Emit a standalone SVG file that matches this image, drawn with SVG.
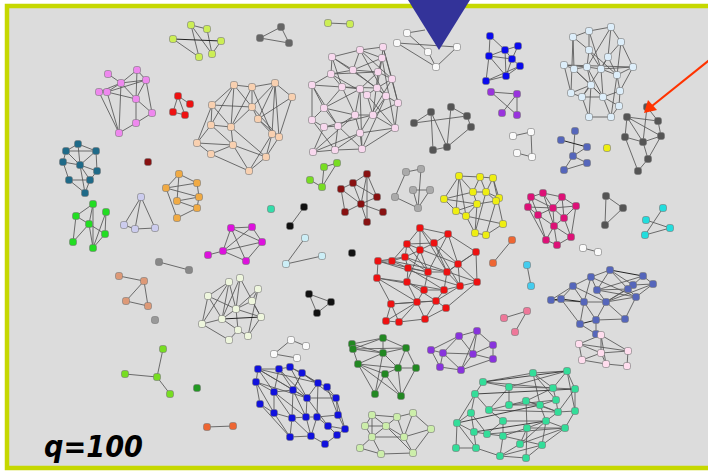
<svg xmlns="http://www.w3.org/2000/svg" xmlns:xlink="http://www.w3.org/1999/xlink" width="708" height="471" viewBox="0 0 708 471">
<style>
.e{fill:none;stroke:#555;stroke-width:0.85}
use{stroke:#777;stroke-width:0.6}
</style>
<defs>
<rect id="n" x="-3.5" y="-3.5" width="7" height="7" rx="2.2"/>
</defs>
<rect width="708" height="471" fill="#fff"/>
<rect x="7" y="6" width="712" height="462" fill="#dcdcdc" stroke="#c6d800" stroke-width="4.5"/>
<g id="connectors">
<path class="e" d="M108 74L121 83M121 83L137 70M137 70L146 80M121 83L146 80M99 92L107 92M107 92L121 83M107 92L146 80M121 83L136 99M136 99L146 80M136 99L152 113M146 80L152 113M136 99L136 123M152 113L136 123M99 92L119 133M107 92L119 133M121 83L119 133M136 123L119 133M107 92L136 99M137 70L136 99M99 92L121 83"/>
<path class="e" d="M78 144L96 151M66 151L96 151M78 144L80 165M66 151L80 165M80 165L96 151M63 162L80 165M80 165L97 171M96 151L97 171M63 162L69 180M69 180L90 180M80 165L90 180M90 180L85 193M69 180L85 193M80 165L85 193M78 144L66 151M97 171L90 180M66 151L63 162"/>
<path class="e" d="M191 25L207 29M191 25L199 57M207 29L212 54M173 39L199 57M191 25L212 54M212 54L221 41"/>
<path d="M173 39L221 41" stroke="#222" stroke-width="1"/>
<path class="e" d="M260 38L281 27M260 38L289 43M281 27L289 43M328 23L350 24M178 96L190 104M178 96L173 112M173 112L185 115M178 96L185 115"/>
<path class="e" d="M234 85L252 87M252 87L275 83M275 83L292 97M234 85L212 105M252 87L252 107M234 85L252 107M275 83L252 107M212 105L252 107M275 83L258 119M252 107L258 119M292 97L258 119M292 97L279 137M212 105L211 125M212 105L231 127M234 85L211 125M252 87L231 127M252 107L231 127M258 119L272 134M258 119L279 137M275 83L272 134M211 125L197 143M211 125L231 127M231 127L233 145M197 143L233 145M197 143L211 154M233 145L211 154M231 127L266 157M272 134L266 157M279 137L266 157M233 145L266 157M211 154L249 171M266 157L249 171M233 145L249 171M272 134L249 171M211 125L233 145M252 87L272 134M212 105L197 143M234 85L231 127M252 107L279 137M275 83L279 137"/>
<path class="e" d="M332 57L331 74M332 57L360 50M332 57L353 70M331 74L312 85M331 74L342 87M331 74L353 70M312 85L342 87M312 85L312 120M312 85L324 108M342 87L324 108M342 87L360 89M353 70L360 50M353 70L378 72M353 70L382 58M360 50L383 47M360 50L382 58M383 47L382 58M383 47L392 79M382 58L378 72M382 58L377 88M378 72L392 79M378 72L360 89M392 79L398 103M392 79L377 88M377 88L367 95M377 88L386 96M360 89L367 95M360 89L355 115M367 95L373 115M386 96L398 103M386 96L373 115M398 103L395 128M355 115L373 115M355 115L360 133M373 115L395 128M395 128L362 149M360 133L362 149M324 108L312 120M324 108L338 126M312 120L324 127M324 127L338 126M324 127L313 152M338 126L335 150M313 152L335 150M338 126L355 115M335 150L360 133M335 150L362 149M313 152L360 133M324 108L360 89M342 87L355 115M331 74L367 95M332 57L377 88M360 50L386 96M383 47L398 103M382 58L395 128M312 85L338 126M312 120L335 150M324 127L373 115M338 126L362 149M353 70L386 96M378 72L373 115M392 79L360 133M367 95L395 128M360 89L362 149M331 74L378 72M342 87L377 88M360 50L392 79M332 57L342 87M324 108L355 115M313 152L355 115M395 128L360 133M386 96L362 149M398 103L373 115"/>
<path class="e" d="M407 33L425 30M407 33L428 52M397 43L436 67M397 43L457 47M457 47L436 67M428 52L436 67"/>
<path class="e" d="M490 36L489 56M490 36L505 50M505 50L518 46M505 50L489 56M505 50L512 59M489 56L512 59M518 46L512 59M512 59L520 66M489 56L506 76M512 59L506 76M520 66L506 76M489 56L486 81M506 76L486 81M505 50L506 76M486 81L520 66"/>
<path class="e" d="M491 92L517 94M517 94L517 115M491 92L517 115M502 113L517 94"/>
<path class="e" d="M414 123L431 112M414 123L467 116M431 112L433 150M451 107L447 147M467 116L471 127M471 127L447 147M433 150L447 147M431 112L447 147M451 107L467 116"/>
<path class="e" d="M513 136L531 132M531 132L532 157M517 153L532 157"/>
<path class="e" d="M589 31L611 27M589 31L573 37M589 31L589 50M611 27L621 42M611 27L608 57M573 37L589 50M573 37L574 69M621 42L608 57M621 42L633 67M621 42L617 75M589 50L587 67M589 50L601 69M608 57L601 69M608 57L617 75M564 65L574 69M564 65L587 67M574 69L587 67M587 67L601 69M601 69L633 67M564 65L633 67M601 69L617 75M633 67L617 75M574 69L591 85M587 67L591 85M601 69L603 97M617 75L620 91M591 85L571 93M591 85L582 97M591 85L603 97M571 93L582 97M582 97L603 97M603 97L620 91M603 97L619 106M620 91L619 106M582 97L589 117M603 97L611 117M619 106L611 117M589 117L611 117M591 85L589 117M617 75L611 117M573 37L571 93M589 31L601 69M611 27L587 67M608 57L582 97M589 50L617 75M633 67L620 91M564 65L571 93M574 69L603 97M587 67L603 97"/>
<path class="e" d="M627 117L658 121M647 107L658 121M627 117L625 137M627 117L661 136M647 107L643 142M625 137L643 142M643 142L661 136M658 121L661 136M643 142L648 159M661 136L648 159M648 159L638 171M625 137L638 171M627 117L643 142"/>
<path class="e" d="M575 131L573 156M573 156L587 147M564 170L587 163M573 156L564 170M573 156L587 163"/>
<path d="M561 140L587 147" stroke="#222" stroke-width="1"/>
<path class="e" d="M179 174L166 188M179 174L177 201M166 188L197 183M166 188L199 197M197 183L199 197M199 197L177 201M177 201L197 208M199 197L197 208M197 208L177 218M166 188L177 218M179 174L197 183"/>
<path class="e" d="M93 204L76 216M93 204L89 224M93 204L93 248M106 212L105 234M106 212L93 248M76 216L89 224M76 216L73 242M89 224L105 234M89 224L73 242M89 224L93 248M105 234L93 248"/>
<path class="e" d="M141 197L124 225M141 197L135 229M141 197L155 228M124 225L135 229M135 229L155 228M159 262L189 270"/>
<path class="e" d="M119 276L144 281M144 281L126 301M126 301L148 306M144 281L148 306"/>
<path class="e" d="M324 167L337 163M337 163L322 187M310 180L322 187M324 167L322 187"/>
<path class="e" d="M341 189L353 183M353 183L367 174M367 174L377 197M367 174L361 204M341 189L361 204M353 183L377 197M341 189L345 212M361 204L377 197M361 204L383 212M361 204L367 222M367 174L367 222M353 183L361 204M345 212L361 204"/>
<path class="e" d="M304 207L290 226M305 238L286 264M286 264L322 256M309 294L331 302M331 302L317 313M309 294L317 313"/>
<path class="e" d="M231 228L252 227M231 228L223 251M231 228L246 261M252 227L262 242M252 227L223 251M262 242L223 251M262 242L246 261M208 255L223 251M223 251L246 261M231 228L262 242"/>
<path class="e" d="M229 282L208 296M229 282L236 309M229 282L202 324M240 278L236 309M240 278L222 319M240 278L261 317M258 289L252 301M258 289L236 309M208 296L222 319M208 296L202 324M252 301L236 309M236 309L222 319M236 309L261 317M236 309L238 330M202 324L222 319M222 319L238 330M261 317L248 336M238 330L248 336M238 330L229 340M202 324L229 340M252 301L261 317M229 282L222 319M208 296L236 309M258 289L248 336"/>
<path d="M222 319L261 317" stroke="#222" stroke-width="1"/>
<path class="e" d="M406 172L421 169M406 172L395 197M421 169L418 208M413 190L430 190M413 190L418 208M430 190L418 208M395 197L418 208"/>
<path class="e" d="M459 176L480 177M480 177L493 178M459 176L444 199M459 176L473 192M459 176L456 211M480 177L473 192M480 177L486 192M493 178L486 192M493 178L499 198M493 178L503 224M444 199L477 204M444 199L456 211M473 192L486 192M473 192L477 204M486 192L499 198M486 192L496 201M499 198L496 201M496 201L477 204M477 204L456 211M477 204L466 216M456 211L466 216M466 216L503 224M466 216L475 233M477 204L475 233M496 201L486 235M503 224L486 235M475 233L486 235M444 199L473 192M486 192L475 233M459 176L466 216"/>
<path class="e" d="M420 228L448 234M420 228L407 244M420 228L434 243M420 228L420 250M448 234L434 243M448 234L476 252M448 234L458 264M407 244L434 243M407 244L405 257M407 244L392 261M434 243L420 250M434 243L458 264M434 243L447 272M420 250L405 257M420 250L428 272M476 252L458 264M476 252L477 282M378 261L392 261M378 261L377 278M378 261L405 257M392 261L405 257M392 261L408 268M405 257L408 268M405 257L428 272M458 264L447 272M458 264L460 286M458 264L477 282M408 268L428 272M408 268L407 282M428 272L447 272M428 272L424 290M447 272L460 286M447 272L444 290M377 278L407 282M377 278L391 304M407 282L424 290M407 282L417 302M460 286L477 282M460 286L444 290M460 286L436 301M477 282L446 308M424 290L444 290M424 290L417 302M444 290L436 301M391 304L417 302M417 302L436 301M436 301L446 308M391 304L386 321M391 304L399 322M417 302L399 322M417 302L425 319M436 301L425 319M446 308L425 319M386 321L399 322M399 322L425 319M378 261L428 272M392 261L447 272M407 244L428 272M377 278L444 290M378 261L460 286M405 257L477 282M420 228L447 272M448 234L428 272M377 278L417 302M407 282L436 301M408 268L444 290M391 304L436 301M386 321L417 302M476 252L447 272M420 250L407 282M434 243L460 286M407 244L458 264"/>
<path class="e" d="M512 240L493 263M527 265L531 286M504 318L527 311M527 311L515 332"/>
<path class="e" d="M531 197L543 193M543 193L562 197M543 193L553 208M562 197L576 206M531 197L528 207M528 207L553 208M553 208L576 206M562 197L553 208M528 207L538 215M538 215L553 208M553 208L564 218M576 206L564 218M564 218L554 226M538 215L554 226M554 226L571 237M564 218L571 237M576 206L571 237M538 215L546 240M554 226L546 240M546 240L557 245M554 226L557 245M571 237L557 245M531 197L538 215M543 193L554 226M562 197L564 218M528 207L546 240M553 208L554 226M531 197L553 208"/>
<path class="e" d="M606 196L623 208M623 208L605 225M606 196L605 225M663 208L645 235M646 220L670 228M645 235L670 228M583 248L598 252"/>
<path class="e" d="M610 270L591 277M610 270L597 290M643 276L653 284M643 276L633 285M591 277L573 286M591 277L597 290M591 277L584 302M653 284L633 285M653 284L636 297M573 286L551 300M573 286L561 299M573 286L584 302M633 285L628 289M597 290L628 289M597 290L606 302M628 289L636 297M584 302L606 302M606 302L636 297M606 302L625 319M636 297L625 319M561 299L580 324M584 302L580 324M584 302L596 320M606 302L596 320M596 320L625 319M580 324L596 334M596 320L596 334M610 270L628 289M591 277L636 297M597 290L636 297M573 286L606 302M643 276L597 290M633 285L606 302M628 289L606 302M653 284L606 302M551 300L584 302M610 270L633 285"/>
<path d="M610 270L643 276M551 300L561 299L584 302M580 324L596 320" fill="none" stroke="#222" stroke-width="1"/>
<path class="e" d="M596 334L601 335M601 335L579 344M601 335L601 353M601 335L628 351M579 344L628 351M579 344L582 360M601 353L606 364M582 360L606 364M606 364L627 366M628 351L627 366M579 344L601 353M601 353L628 351M582 360L601 353M601 335L606 364"/>
<path class="e" d="M163 349L157 377M125 374L157 377M157 377L170 394M291 340L306 346M291 340L274 354M274 354L297 358M207 427L233 426"/>
<path class="e" d="M258 369L279 369M279 369L290 367M290 367L302 373M258 369L256 382M258 369L274 392M279 369L293 390M290 367L318 383M302 373L318 383M302 373L293 390M256 382L274 392M256 382L260 404M318 383L327 387M318 383L307 398M327 387L336 398M274 392L293 390M274 392L274 413M293 390L307 398M293 390L292 418M307 398L336 398M307 398L306 417M336 398L338 415M260 404L274 413M274 413L292 418M292 418L306 417M306 417L317 417M317 417L338 415M317 417L328 426M338 415L345 429M328 426L345 429M292 418L290 437M306 417L311 436M317 417L311 436M328 426L337 435M345 429L337 435M290 437L311 436M311 436L325 444M337 435L325 444M258 369L293 390M279 369L307 398M290 367L307 398M256 382L274 413M274 392L292 418M260 404L290 437M258 369L318 383M279 369L274 392M302 373L336 398M327 387L338 415M318 383L317 417M307 398L328 426M336 398L345 429M293 390L306 417M274 392L306 417M292 418L311 436M256 382L307 398M258 369L307 398M274 413L290 437M302 373L293 390"/>
<path class="e" d="M352 344L383 338M353 349L383 338M353 349L383 353M383 338L406 348M383 338L383 353M406 348L383 353M353 349L358 364M383 353L358 364M383 353L398 368M406 348L398 368M406 348L416 368M398 368L416 368M358 364L385 374M398 368L385 374M358 364L375 394M385 374L375 394M385 374L401 396M398 368L401 396M416 368L401 396M358 364L398 368M353 349L406 348M352 344L383 353M375 394L383 353M358 364L401 396"/>
<path class="e" d="M459 336L477 331M459 336L431 350M459 336L443 353M477 331L493 345M477 331L473 354M493 345L473 354M493 345L493 359M431 350L443 353M443 353L473 354M473 354L493 359M443 353L440 367M473 354L461 370M440 367L461 370M461 370L493 359M431 350L440 367M459 336L473 354M477 331L461 370M443 353L461 370"/>
<path class="e" d="M372 415L397 417M397 417L413 413M372 415L365 426M372 415L386 426M397 417L386 426M413 413L431 429M413 413L404 437M386 426L404 437M365 426L372 437M386 426L372 437M372 437L404 437M404 437L431 429M372 437L360 448M372 437L381 454M360 448L381 454M404 437L413 453M381 454L413 453M431 429L413 453M386 426L413 453M372 415L372 437M397 417L404 437M365 426L386 426"/>
<path class="e" d="M483 382L533 373M483 382L509 387M483 382L475 394M509 387L489 410M509 387L509 405M475 394L471 413M475 394L489 410M471 413L457 423M471 413L474 432M489 410L509 405M489 410L503 421M509 405L526 401M526 401L527 428M503 421L503 436M503 421L487 434M457 423L474 432M474 432L487 434M487 434L503 436M503 436L527 428M457 423L456 448M474 432L476 448M476 448L456 448M476 448L500 456M500 456L526 458M503 436L500 456M527 428L526 458M520 444L527 428M520 444L500 456M533 373L567 371M533 373L553 388M567 371L553 388M567 371L575 389M553 388L575 389M553 388L556 400M575 389L575 411M556 400L540 405M556 400L558 412M540 405L546 421M575 411L558 412M558 412L546 421M546 421L565 428M575 411L565 428M546 421L542 445M565 428L542 445M540 405L526 401M509 405L540 405M509 387L553 388M533 373L540 405M567 371L575 411M483 382L553 388M526 401L558 412M527 428L546 421M526 458L542 445M520 444L565 428M509 405L556 400M509 387L567 371M503 421L546 421M503 436L542 445M487 434L565 428M489 410L558 412M475 394L457 423M471 413L487 434M457 423L476 448M575 389L558 412M526 401L553 388M533 373L556 400M527 428L565 428M500 456L542 445M520 444L546 421M540 405L558 412"/>
<path d="M483 382L567 371M475 394L575 389M457 423L540 405M474 432L546 421" fill="none" stroke="#333" stroke-width="0.9"/>
</g>
<g id="c-violet" fill="#ee88ee"><use href="#n" x="108" y="74"/><use href="#n" x="137" y="70"/><use href="#n" x="146" y="80"/><use href="#n" x="121" y="83"/><use href="#n" x="99" y="92"/><use href="#n" x="107" y="92"/><use href="#n" x="136" y="99"/><use href="#n" x="152" y="113"/><use href="#n" x="136" y="123"/><use href="#n" x="119" y="133"/></g>
<g id="c-teal" fill="#1f6a88"><use href="#n" x="78" y="144"/><use href="#n" x="66" y="151"/><use href="#n" x="96" y="151"/><use href="#n" x="63" y="162"/><use href="#n" x="80" y="165"/><use href="#n" x="97" y="171"/><use href="#n" x="69" y="180"/><use href="#n" x="90" y="180"/><use href="#n" x="85" y="193"/></g>
<g id="c-lime" fill="#ccee55"><use href="#n" x="173" y="39"/><use href="#n" x="191" y="25"/><use href="#n" x="207" y="29"/><use href="#n" x="221" y="41"/><use href="#n" x="199" y="57"/><use href="#n" x="212" y="54"/><use href="#n" x="328" y="23"/><use href="#n" x="350" y="24"/></g>
<g id="c-gray3" fill="#666"><use href="#n" x="260" y="38"/><use href="#n" x="281" y="27"/><use href="#n" x="289" y="43"/></g>
<g id="c-red4" fill="#ee1111"><use href="#n" x="178" y="96"/><use href="#n" x="190" y="104"/><use href="#n" x="173" y="112"/><use href="#n" x="185" y="115"/></g>
<g id="c-peach" fill="#f8d0b0"><use href="#n" x="234" y="85"/><use href="#n" x="252" y="87"/><use href="#n" x="275" y="83"/><use href="#n" x="292" y="97"/><use href="#n" x="212" y="105"/><use href="#n" x="252" y="107"/><use href="#n" x="258" y="119"/><use href="#n" x="211" y="125"/><use href="#n" x="231" y="127"/><use href="#n" x="272" y="134"/><use href="#n" x="279" y="137"/><use href="#n" x="197" y="143"/><use href="#n" x="233" y="145"/><use href="#n" x="211" y="154"/><use href="#n" x="266" y="157"/><use href="#n" x="249" y="171"/></g>
<g id="c-lpink" fill="#f8d8ee"><use href="#n" x="332" y="57"/><use href="#n" x="312" y="85"/><use href="#n" x="331" y="74"/><use href="#n" x="342" y="87"/><use href="#n" x="353" y="70"/><use href="#n" x="324" y="108"/><use href="#n" x="312" y="120"/><use href="#n" x="324" y="127"/><use href="#n" x="338" y="126"/><use href="#n" x="313" y="152"/><use href="#n" x="335" y="150"/><use href="#n" x="360" y="50"/><use href="#n" x="383" y="47"/><use href="#n" x="382" y="58"/><use href="#n" x="378" y="72"/><use href="#n" x="392" y="79"/><use href="#n" x="377" y="88"/><use href="#n" x="360" y="89"/><use href="#n" x="367" y="95"/><use href="#n" x="386" y="96"/><use href="#n" x="398" y="103"/><use href="#n" x="355" y="115"/><use href="#n" x="373" y="115"/><use href="#n" x="395" y="128"/><use href="#n" x="360" y="133"/><use href="#n" x="362" y="149"/></g>
<g id="c-white1" fill="#fafafa"><use href="#n" x="407" y="33"/><use href="#n" x="397" y="43"/><use href="#n" x="428" y="52"/><use href="#n" x="457" y="47"/><use href="#n" x="436" y="67"/><use href="#n" x="513" y="136"/><use href="#n" x="531" y="132"/><use href="#n" x="517" y="153"/><use href="#n" x="532" y="157"/><use href="#n" x="583" y="248"/><use href="#n" x="598" y="252"/><use href="#n" x="291" y="340"/><use href="#n" x="306" y="346"/><use href="#n" x="274" y="354"/><use href="#n" x="297" y="358"/></g>
<g id="c-blue1" fill="#0a0aee"><use href="#n" x="490" y="36"/><use href="#n" x="505" y="50"/><use href="#n" x="518" y="46"/><use href="#n" x="489" y="56"/><use href="#n" x="512" y="59"/><use href="#n" x="520" y="66"/><use href="#n" x="506" y="76"/><use href="#n" x="486" y="81"/></g>
<g id="c-purple1" fill="#9933dd"><use href="#n" x="491" y="92"/><use href="#n" x="517" y="94"/><use href="#n" x="502" y="113"/><use href="#n" x="517" y="115"/></g>
<g id="c-dgray" fill="#555"><use href="#n" x="414" y="123"/><use href="#n" x="431" y="112"/><use href="#n" x="451" y="107"/><use href="#n" x="467" y="116"/><use href="#n" x="471" y="127"/><use href="#n" x="433" y="150"/><use href="#n" x="447" y="147"/><use href="#n" x="647" y="107"/><use href="#n" x="627" y="117"/><use href="#n" x="658" y="121"/><use href="#n" x="625" y="137"/><use href="#n" x="643" y="142"/><use href="#n" x="661" y="136"/><use href="#n" x="648" y="159"/><use href="#n" x="638" y="171"/><use href="#n" x="606" y="196"/><use href="#n" x="623" y="208"/><use href="#n" x="605" y="225"/></g>
<g id="c-lblue" fill="#ddeefa"><use href="#n" x="589" y="31"/><use href="#n" x="611" y="27"/><use href="#n" x="573" y="37"/><use href="#n" x="621" y="42"/><use href="#n" x="589" y="50"/><use href="#n" x="608" y="57"/><use href="#n" x="564" y="65"/><use href="#n" x="574" y="69"/><use href="#n" x="587" y="67"/><use href="#n" x="601" y="69"/><use href="#n" x="633" y="67"/><use href="#n" x="617" y="75"/><use href="#n" x="591" y="85"/><use href="#n" x="571" y="93"/><use href="#n" x="582" y="97"/><use href="#n" x="603" y="97"/><use href="#n" x="620" y="91"/><use href="#n" x="619" y="106"/><use href="#n" x="589" y="117"/><use href="#n" x="611" y="117"/></g>
<g id="c-slate" fill="#5566bb"><use href="#n" x="575" y="131"/><use href="#n" x="561" y="140"/><use href="#n" x="587" y="147"/><use href="#n" x="573" y="156"/><use href="#n" x="564" y="170"/><use href="#n" x="587" y="163"/><use href="#n" x="610" y="270"/><use href="#n" x="643" y="276"/><use href="#n" x="591" y="277"/><use href="#n" x="653" y="284"/><use href="#n" x="573" y="286"/><use href="#n" x="633" y="285"/><use href="#n" x="597" y="290"/><use href="#n" x="628" y="289"/><use href="#n" x="551" y="300"/><use href="#n" x="561" y="299"/><use href="#n" x="584" y="302"/><use href="#n" x="606" y="302"/><use href="#n" x="636" y="297"/><use href="#n" x="580" y="324"/><use href="#n" x="596" y="320"/><use href="#n" x="625" y="319"/><use href="#n" x="596" y="334"/></g>
<g id="c-singles"><use href="#n" x="607" y="148" fill="#eeee11"/><use href="#n" x="148" y="162" fill="#881111"/><use href="#n" x="271" y="209" fill="#33ddaa"/><use href="#n" x="352" y="253" fill="#111"/><use href="#n" x="155" y="320" fill="#999"/><use href="#n" x="197" y="388" fill="#229922"/><use href="#n" x="159" y="262" fill="#888"/><use href="#n" x="189" y="270" fill="#888"/></g>
<g id="c-orange" fill="#f0aa44"><use href="#n" x="179" y="174"/><use href="#n" x="166" y="188"/><use href="#n" x="197" y="183"/><use href="#n" x="199" y="197"/><use href="#n" x="177" y="201"/><use href="#n" x="197" y="208"/><use href="#n" x="177" y="218"/></g>
<g id="c-green" fill="#22dd22"><use href="#n" x="93" y="204"/><use href="#n" x="106" y="212"/><use href="#n" x="76" y="216"/><use href="#n" x="89" y="224"/><use href="#n" x="105" y="234"/><use href="#n" x="73" y="242"/><use href="#n" x="93" y="248"/></g>
<g id="c-lavender" fill="#ccccee"><use href="#n" x="141" y="197"/><use href="#n" x="124" y="225"/><use href="#n" x="135" y="229"/><use href="#n" x="155" y="228"/></g>
<g id="c-salmon" fill="#dd9977"><use href="#n" x="119" y="276"/><use href="#n" x="144" y="281"/><use href="#n" x="126" y="301"/><use href="#n" x="148" y="306"/></g>
<g id="c-limegreen" fill="#77dd22"><use href="#n" x="324" y="167"/><use href="#n" x="337" y="163"/><use href="#n" x="310" y="180"/><use href="#n" x="322" y="187"/><use href="#n" x="163" y="349"/><use href="#n" x="125" y="374"/><use href="#n" x="157" y="377"/><use href="#n" x="170" y="394"/></g>
<g id="c-darkred" fill="#881111"><use href="#n" x="341" y="189"/><use href="#n" x="353" y="183"/><use href="#n" x="367" y="174"/><use href="#n" x="377" y="197"/><use href="#n" x="361" y="204"/><use href="#n" x="383" y="212"/><use href="#n" x="367" y="222"/><use href="#n" x="345" y="212"/></g>
<g id="c-black" fill="#111"><use href="#n" x="304" y="207"/><use href="#n" x="290" y="226"/><use href="#n" x="309" y="294"/><use href="#n" x="331" y="302"/><use href="#n" x="317" y="313"/></g>
<g id="c-magenta" fill="#dd11dd"><use href="#n" x="231" y="228"/><use href="#n" x="252" y="227"/><use href="#n" x="262" y="242"/><use href="#n" x="208" y="255"/><use href="#n" x="223" y="251"/><use href="#n" x="246" y="261"/></g>
<g id="c-lcyan" fill="#cceef6"><use href="#n" x="305" y="238"/><use href="#n" x="322" y="256"/><use href="#n" x="286" y="264"/></g>
<g id="c-palewhite" fill="#eef6dd"><use href="#n" x="229" y="282"/><use href="#n" x="240" y="278"/><use href="#n" x="258" y="289"/><use href="#n" x="208" y="296"/><use href="#n" x="252" y="301"/><use href="#n" x="236" y="309"/><use href="#n" x="202" y="324"/><use href="#n" x="222" y="319"/><use href="#n" x="261" y="317"/><use href="#n" x="238" y="330"/><use href="#n" x="248" y="336"/><use href="#n" x="229" y="340"/></g>
<g id="c-gray6" fill="#aaa"><use href="#n" x="406" y="172"/><use href="#n" x="421" y="169"/><use href="#n" x="395" y="197"/><use href="#n" x="413" y="190"/><use href="#n" x="430" y="190"/><use href="#n" x="418" y="208"/></g>
<g id="c-yellow" fill="#eeee11"><use href="#n" x="459" y="176"/><use href="#n" x="480" y="177"/><use href="#n" x="493" y="178"/><use href="#n" x="444" y="199"/><use href="#n" x="473" y="192"/><use href="#n" x="486" y="192"/><use href="#n" x="499" y="198"/><use href="#n" x="496" y="201"/><use href="#n" x="477" y="204"/><use href="#n" x="456" y="211"/><use href="#n" x="466" y="216"/><use href="#n" x="503" y="224"/><use href="#n" x="475" y="233"/><use href="#n" x="486" y="235"/></g>
<g id="c-red" fill="#ee1111"><use href="#n" x="420" y="228"/><use href="#n" x="448" y="234"/><use href="#n" x="407" y="244"/><use href="#n" x="434" y="243"/><use href="#n" x="420" y="250"/><use href="#n" x="476" y="252"/><use href="#n" x="378" y="261"/><use href="#n" x="392" y="261"/><use href="#n" x="405" y="257"/><use href="#n" x="458" y="264"/><use href="#n" x="408" y="268"/><use href="#n" x="428" y="272"/><use href="#n" x="447" y="272"/><use href="#n" x="377" y="278"/><use href="#n" x="407" y="282"/><use href="#n" x="460" y="286"/><use href="#n" x="477" y="282"/><use href="#n" x="424" y="290"/><use href="#n" x="444" y="290"/><use href="#n" x="391" y="304"/><use href="#n" x="417" y="302"/><use href="#n" x="436" y="301"/><use href="#n" x="446" y="308"/><use href="#n" x="386" y="321"/><use href="#n" x="399" y="322"/><use href="#n" x="425" y="319"/></g>
<g id="c-smallpairs"><use href="#n" x="512" y="240" fill="#ee6633"/><use href="#n" x="493" y="263" fill="#ee6633"/><use href="#n" x="527" y="265" fill="#44ccee"/><use href="#n" x="531" y="286" fill="#44ccee"/><use href="#n" x="504" y="318" fill="#ee7799"/><use href="#n" x="527" y="311" fill="#ee7799"/><use href="#n" x="515" y="332" fill="#ee7799"/><use href="#n" x="207" y="427" fill="#ee6633"/><use href="#n" x="233" y="426" fill="#ee6633"/></g>
<g id="c-hotpink" fill="#dd1177"><use href="#n" x="531" y="197"/><use href="#n" x="543" y="193"/><use href="#n" x="562" y="197"/><use href="#n" x="576" y="206"/><use href="#n" x="528" y="207"/><use href="#n" x="553" y="208"/><use href="#n" x="538" y="215"/><use href="#n" x="564" y="218"/><use href="#n" x="554" y="226"/><use href="#n" x="571" y="237"/><use href="#n" x="546" y="240"/><use href="#n" x="557" y="245"/></g>
<g id="c-cyan" fill="#22dddd"><use href="#n" x="663" y="208"/><use href="#n" x="646" y="220"/><use href="#n" x="670" y="228"/><use href="#n" x="645" y="235"/></g>
<g id="c-pinklow" fill="#ffddee"><use href="#n" x="601" y="335"/><use href="#n" x="579" y="344"/><use href="#n" x="601" y="353"/><use href="#n" x="628" y="351"/><use href="#n" x="582" y="360"/><use href="#n" x="606" y="364"/><use href="#n" x="627" y="366"/></g>
<g id="c-blue2" fill="#1111dd"><use href="#n" x="258" y="369"/><use href="#n" x="279" y="369"/><use href="#n" x="290" y="367"/><use href="#n" x="302" y="373"/><use href="#n" x="256" y="382"/><use href="#n" x="318" y="383"/><use href="#n" x="327" y="387"/><use href="#n" x="274" y="392"/><use href="#n" x="293" y="390"/><use href="#n" x="307" y="398"/><use href="#n" x="336" y="398"/><use href="#n" x="260" y="404"/><use href="#n" x="274" y="413"/><use href="#n" x="292" y="418"/><use href="#n" x="306" y="417"/><use href="#n" x="317" y="417"/><use href="#n" x="338" y="415"/><use href="#n" x="328" y="426"/><use href="#n" x="345" y="429"/><use href="#n" x="290" y="437"/><use href="#n" x="311" y="436"/><use href="#n" x="337" y="435"/><use href="#n" x="325" y="444"/></g>
<g id="c-dgreen" fill="#228822"><use href="#n" x="352" y="344"/><use href="#n" x="353" y="349"/><use href="#n" x="383" y="338"/><use href="#n" x="406" y="348"/><use href="#n" x="383" y="353"/><use href="#n" x="358" y="364"/><use href="#n" x="398" y="368"/><use href="#n" x="416" y="368"/><use href="#n" x="385" y="374"/><use href="#n" x="375" y="394"/><use href="#n" x="401" y="396"/></g>
<g id="c-purple2" fill="#8833dd"><use href="#n" x="459" y="336"/><use href="#n" x="477" y="331"/><use href="#n" x="493" y="345"/><use href="#n" x="431" y="350"/><use href="#n" x="443" y="353"/><use href="#n" x="473" y="354"/><use href="#n" x="493" y="359"/><use href="#n" x="440" y="367"/><use href="#n" x="461" y="370"/></g>
<g id="c-palegreen" fill="#cceeaa"><use href="#n" x="372" y="415"/><use href="#n" x="397" y="417"/><use href="#n" x="413" y="413"/><use href="#n" x="365" y="426"/><use href="#n" x="386" y="426"/><use href="#n" x="431" y="429"/><use href="#n" x="372" y="437"/><use href="#n" x="404" y="437"/><use href="#n" x="360" y="448"/><use href="#n" x="381" y="454"/><use href="#n" x="413" y="453"/></g>
<g id="c-aqua" fill="#33dd99"><use href="#n" x="483" y="382"/><use href="#n" x="509" y="387"/><use href="#n" x="475" y="394"/><use href="#n" x="471" y="413"/><use href="#n" x="489" y="410"/><use href="#n" x="509" y="405"/><use href="#n" x="526" y="401"/><use href="#n" x="503" y="421"/><use href="#n" x="457" y="423"/><use href="#n" x="474" y="432"/><use href="#n" x="487" y="434"/><use href="#n" x="503" y="436"/><use href="#n" x="527" y="428"/><use href="#n" x="476" y="448"/><use href="#n" x="456" y="448"/><use href="#n" x="500" y="456"/><use href="#n" x="526" y="458"/><use href="#n" x="520" y="444"/><use href="#n" x="533" y="373"/><use href="#n" x="567" y="371"/><use href="#n" x="553" y="388"/><use href="#n" x="575" y="389"/><use href="#n" x="556" y="400"/><use href="#n" x="540" y="405"/><use href="#n" x="575" y="411"/><use href="#n" x="558" y="412"/><use href="#n" x="546" y="421"/><use href="#n" x="565" y="428"/><use href="#n" x="542" y="445"/></g>
<polygon id="pointer" points="408,0 470,0 439,50" fill="#333399"/>
<g id="arrow"><line x1="712" y1="58" x2="652" y2="106" stroke="#ff3300" stroke-width="2.2"/><polygon points="644,113 648,100 657,110" fill="#ff3300"/></g>
<text x="44" y="457" font-family="'DejaVu Sans', sans-serif" font-weight="bold" font-style="italic" font-size="31" textLength="99" lengthAdjust="spacingAndGlyphs" fill="#000">q=100</text>
</svg>
